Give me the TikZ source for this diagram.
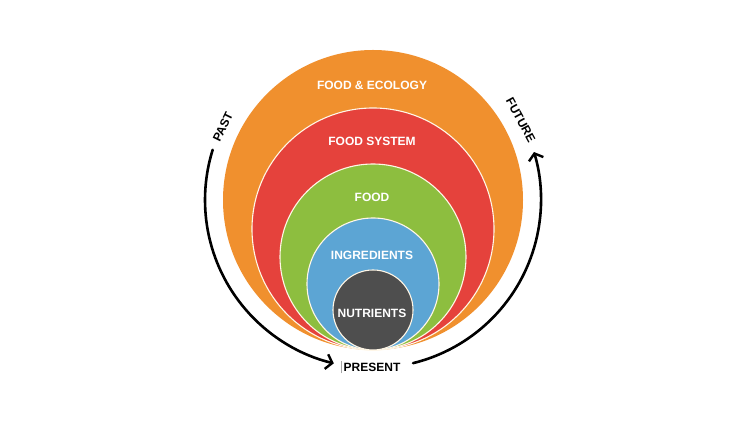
\documentclass[tikz,border=0pt]{standalone}
\usepackage{fontspec}
\setmainfont{Liberation Sans}
\usetikzlibrary{arrows.meta}
\definecolor{cOrange}{RGB}{240,144,46}
\definecolor{cRed}{RGB}{229,66,60}
\definecolor{cGreen}{RGB}{141,190,63}
\definecolor{cBlue}{RGB}{92,165,212}
\definecolor{cGray}{RGB}{78,78,78}
\definecolor{cLine}{RGB}{255,246,230}
\tikzset{
  ring/.style={circle, inner sep=0pt, draw=cLine, line width=1.1pt},
  label/.style={font=\fontsize{12}{14}\selectfont\bfseries, text=white, inner sep=1pt},
  timetext/.style={font=\fontsize{12}{14}\selectfont\bfseries, text=black, inner sep=1pt},
  timearc/.style={line width=2.6pt, line cap=round, -{Straight Barb[length=6pt, width=15pt, line width=2.4pt]}},
  plainarc/.style={line width=2.6pt, line cap=round}
}
\begin{document}
\begin{tikzpicture}[x=1pt, y=1pt]
\useasboundingbox (0,0) rectangle (750,422);
\coordinate (c) at (373,222);
% nested circles
\node[ring, draw=none, fill=cOrange, minimum size=300pt] (eco) at (373,222) {};
\node[ring, fill=cRed, minimum size=242pt] (sys) at (373,193) {};
\node[ring, fill=cGreen, minimum size=186pt] (food) at (373,165) {};
\node[ring, fill=cBlue, minimum size=132pt] (ingr) at (373,138) {};
\node[ring, fill=cGray, minimum size=80pt] (nutr) at (373,112) {};
% labels
\node[label] (tEco) at (372,337) {FOOD \& ECOLOGY};
\node[label] (tSys) at (372,281) {FOOD SYSTEM};
\node[label] (tFood) at (372,225) {FOOD};
\node[label] (tIngr) at (372,167) {INGREDIENTS};
\node[label] (tNutr) at (372,109) {NUTRIENTS};
% time arrows
\draw[timearc] (c) ++(162.6:168) coordinate (pastStart) arc[start angle=162.6, end angle=256.5, radius=168] coordinate (presL);
\draw[timearc] (c) ++(-76.2:168) coordinate (presR) arc[start angle=-76.2, end angle=16.6, radius=168] coordinate (futEnd);
\node[timetext] (tPresent) at (372,55) {PRESENT};
\draw[gray!70, line width=0.6pt] ([xshift=-1.5pt, yshift=-1pt]tPresent.south west) -- ([xshift=-1.5pt, yshift=1pt]tPresent.north west);
\node[timetext, rotate=64] (tPast) at ([shift={(154:167)}]c) {PAST};
\node[timetext, rotate=-61.6] (tFuture) at ([shift={(28.4:168)}]c) {FUTURE};
\end{tikzpicture}
\end{document}
